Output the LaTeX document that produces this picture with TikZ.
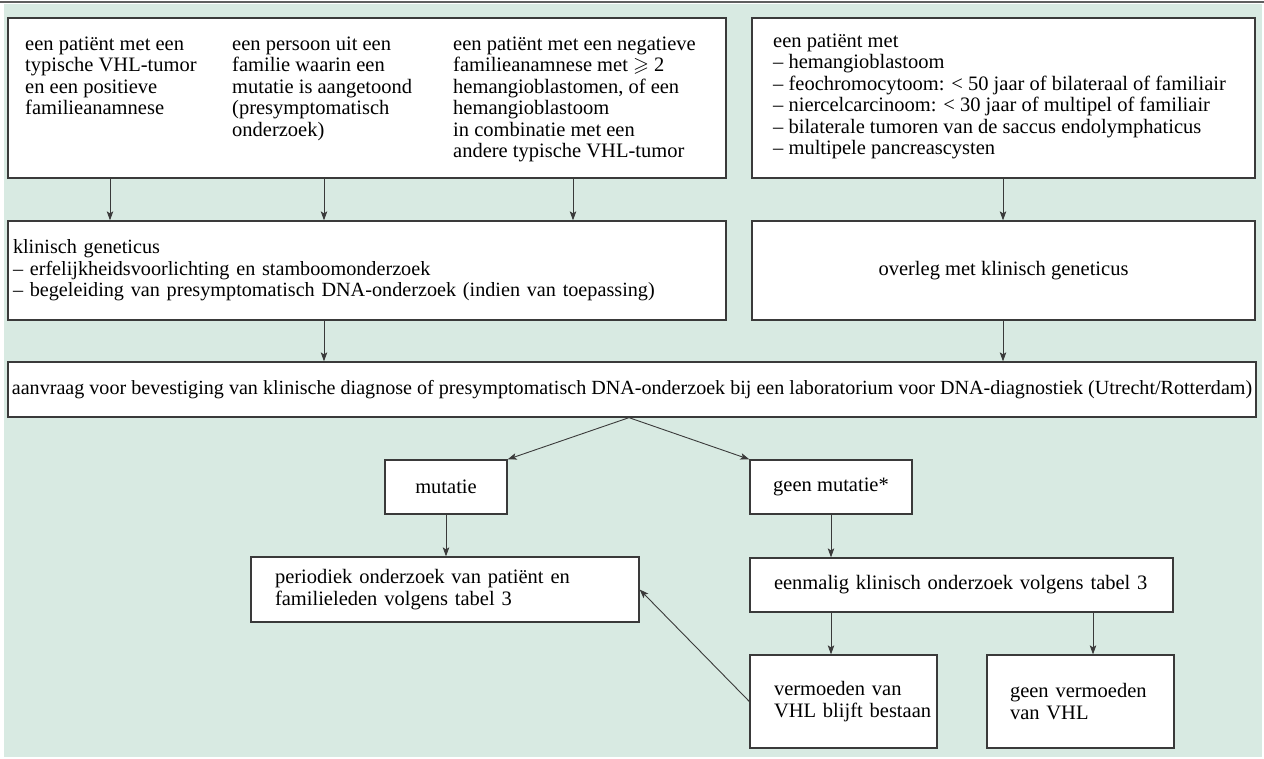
\documentclass[tikz,border=0pt]{standalone}
\usepackage{amssymb}
\usepackage{fontspec}
\setmainfont{Liberation Serif}
\usetikzlibrary{arrows.meta}
\definecolor{bgmint}{RGB}{216,234,226}
\definecolor{linegray}{RGB}{58,58,58}
\definecolor{rulegray}{RGB}{95,95,95}
\tikzset{
  txt/.style={font=\fontsize{20.5}{21.5}\selectfont, text=black},
  boxbase/.style={draw=linegray, line width=1.3pt, fill=white, rectangle, inner sep=0pt, txt},
  cbox/.style={boxbase, align=center},
  lbox/.style={boxbase, align=left},
  coltext/.style={txt, align=left, inner sep=0pt, anchor=north west},
  arr/.style={draw=linegray, line width=0.9pt, -{Stealth[length=9pt,width=6.5pt,inset=2pt]}}
}
\begin{document}
\begin{tikzpicture}[x=1pt,y=-1pt]
\useasboundingbox (0,0) rectangle (1264,758);
\fill[bgmint] (4,4) rectangle (1262,757);
\draw[rulegray, line width=1.5pt] (0,2) -- (1264,2);

% top row
\node[boxbase, minimum width=718pt, minimum height=160pt] (tl) at (367,98) {};
\node[coltext] (t1) at (25,35) {\strut een patiënt met een\\typische VHL-tumor\\en een positieve\\familieanamnese};
\node[coltext] (t2) at (232,35) {\strut een persoon uit een\\familie waarin een\\mutatie is aangetoond\\(presymptomatisch\\onderzoek)};
\node[coltext] (t3) at (453,35) {\strut een patiënt met een negatieve\\familieanamnese met $\geqslant$ 2\\hemangioblastomen, of een\\hemangioblastoom\\in combinatie met een\\andere typische VHL-tumor};

\node[boxbase, minimum width=503pt, minimum height=160pt] (tr) at (1003.5,98) {};
\node[coltext] (t4) at (773,32) {\strut een patiënt met\\– hemangioblastoom\\– feochromocytoom: < 50 jaar of bilateraal of familiair\\– niercelcarcinoom: < 30 jaar of multipel of familiair\\– bilaterale tumoren van de saccus endolymphaticus\\– multipele pancreascysten};

% second row
\node[lbox, text width=708pt, inner xsep=5pt, minimum height=99pt, font=\fontsize{20.2}{21.5}\selectfont] (kg) at (367,270.5) {klinisch geneticus\\– erfelijkheidsvoorlichting en stamboomonderzoek\\– begeleiding van presymptomatisch DNA-onderzoek (indien van toepassing)};
\node[cbox, minimum width=503pt, minimum height=99pt] (ov) at (1003.5,270.5) {overleg met klinisch geneticus};

% long box
\node[cbox, minimum width=1248pt, minimum height=55pt, font=\fontsize{20.1}{21.5}\selectfont] (lg) at (632,389.5) {aanvraag voor bevestiging van klinische diagnose of presymptomatisch DNA-onderzoek bij een laboratorium voor DNA-diagnostiek (Utrecht/Rotterdam)};

% results
\node[cbox, minimum width=122pt, minimum height=54pt] (mut) at (446,487) {mutatie};
\node[cbox, minimum width=162pt, minimum height=54pt] (gm) at (831,487) {geen mutatie*};

\node[lbox, text width=340pt, inner xsep=24pt, minimum height=65pt] (per) at (445,589.5) {periodiek onderzoek van patiënt en\\familieleden volgens tabel 3};
\node[lbox, text width=375pt, inner xsep=24pt, minimum height=54pt] (een) at (961.5,585) {eenmalig klinisch onderzoek volgens tabel 3};

\node[lbox, text width=139pt, inner xsep=24pt, minimum height=93pt] (ver) at (843.5,701.5) {\mbox{vermoeden van}\\\mbox{VHL blijft bestaan}};
\node[lbox, text width=141pt, inner xsep=23pt, minimum height=93pt] (gv) at (1080.5,701.5) {\mbox{geen vermoeden}\\\mbox{van VHL}};

% arrow columns
\coordinate (xa) at (110,0);
\coordinate (xb) at (324,0);
\coordinate (xc) at (573,0);
\coordinate (xd) at (1003,0);
\coordinate (xe) at (629,0);
\coordinate (xf) at (831,0);
\coordinate (xg) at (1093,0);

\draw[arr] (tl.south -| xa) -- (kg.north -| xa);
\draw[arr] (tl.south -| xb) -- (kg.north -| xb);
\draw[arr] (tl.south -| xc) -- (kg.north -| xc);
\draw[arr] (tr.south -| xd) -- (ov.north -| xd);
\draw[arr] (kg.south -| xb) -- (lg.north -| xb);
\draw[arr] (ov.south -| xd) -- (lg.north -| xd);
\draw[arr] (lg.south -| xe) -- (mut.north east);
\draw[arr] (lg.south -| xe) -- (gm.north west);
\draw[arr] (mut.south) -- (mut.south |- per.north);
\draw[arr] (gm.south -| xf) -- (een.north -| xf);
\draw[arr] (een.south -| xf) -- (ver.north -| xf);
\draw[arr] (een.south -| xg) -- (gv.north -| xg);
\draw[arr] (ver.west) -- (per.east);
\end{tikzpicture}
\end{document}
